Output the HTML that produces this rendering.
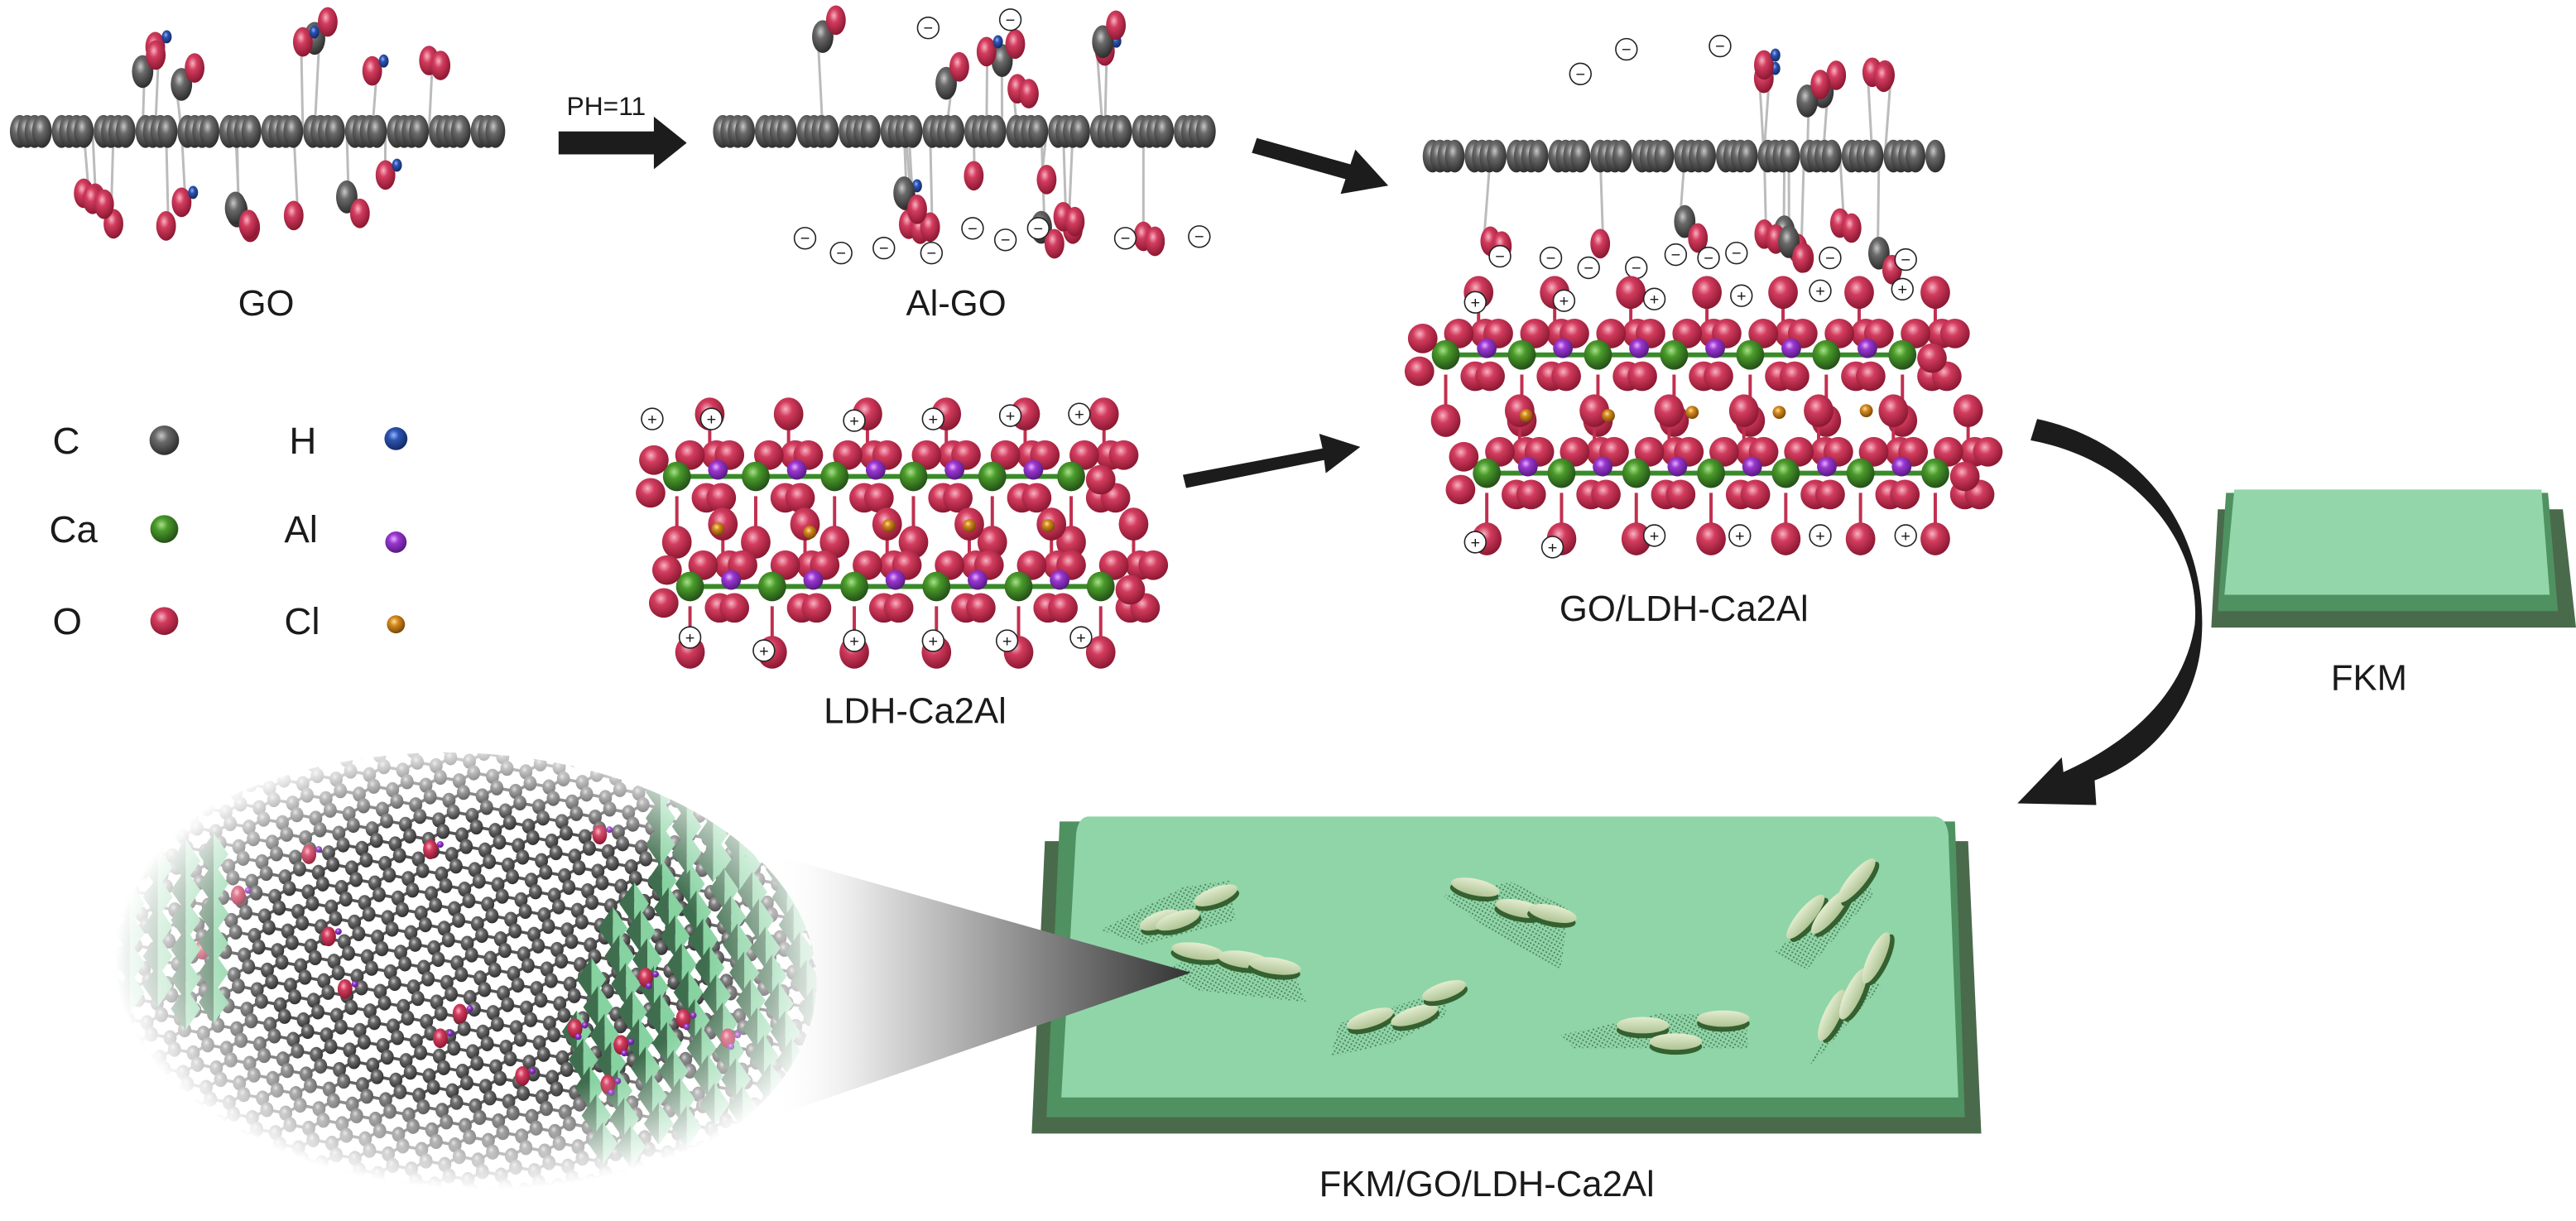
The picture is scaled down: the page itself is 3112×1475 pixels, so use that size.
<!DOCTYPE html>
<html><head><meta charset="utf-8"><style>
html,body{margin:0;padding:0;background:#fff;overflow:hidden;width:3112px;height:1475px;}
svg{display:block;}
text{font-family:"Liberation Sans",sans-serif;fill:#1a1a1a;}
</style></head><body>
<svg id="s" width="3112" height="1475" viewBox="0 0 1568 743.2" xmlns="http://www.w3.org/2000/svg">
<defs>
<radialGradient id="gC" cx="40%" cy="35%" r="65%"><stop offset="0" stop-color="#c8c8c8"/><stop offset=".35" stop-color="#6a6a6a"/><stop offset="1" stop-color="#2e2e2e"/></radialGradient>
<radialGradient id="gO" cx="40%" cy="35%" r="65%"><stop offset="0" stop-color="#f7b3c2"/><stop offset=".35" stop-color="#d33c5e"/><stop offset="1" stop-color="#8c1832"/></radialGradient>
<radialGradient id="gCa" cx="40%" cy="35%" r="65%"><stop offset="0" stop-color="#a8e08a"/><stop offset=".35" stop-color="#4a9a2a"/><stop offset="1" stop-color="#245018"/></radialGradient>
<radialGradient id="gAl" cx="40%" cy="35%" r="65%"><stop offset="0" stop-color="#e6b0ff"/><stop offset=".35" stop-color="#9a36d0"/><stop offset="1" stop-color="#561a80"/></radialGradient>
<radialGradient id="gH" cx="40%" cy="35%" r="65%"><stop offset="0" stop-color="#9ab4ff"/><stop offset=".35" stop-color="#2c54b0"/><stop offset="1" stop-color="#142a66"/></radialGradient>
<radialGradient id="gCl" cx="40%" cy="35%" r="65%"><stop offset="0" stop-color="#ffe09a"/><stop offset=".35" stop-color="#d48a1e"/><stop offset="1" stop-color="#7a4808"/></radialGradient>
<radialGradient id="fade" cx="55%" cy="45%" r="50%"><stop offset="0" stop-color="#fff"/><stop offset=".6" stop-color="#fff"/><stop offset="1" stop-color="#000"/></radialGradient>
<mask id="m"><ellipse cx="272" cy="598" rx="225" ry="140" fill="url(#fade)"/></mask>
<linearGradient id="cone" x1="0" y1="0" x2="1" y2="0"><stop offset="0" stop-color="#fff" stop-opacity="0"/><stop offset=".25" stop-color="#ddd"/><stop offset="1" stop-color="#333"/></linearGradient>
<pattern id="dots" width="2.2" height="2.2" patternUnits="userSpaceOnUse" patternTransform="rotate(30)"><rect width="1" height="1" fill="#3d6a45"/></pattern>
<linearGradient id="plate" x1="0" y1="0" x2="0" y2="1"><stop offset="0" stop-color="#e4edd0"/><stop offset="1" stop-color="#aec394"/></linearGradient>
</defs>
<g id="root"></g>

<text x="162" y="192" font-size="22" text-anchor="middle">GO</text>
<text x="582" y="192" font-size="22" text-anchor="middle">Al-GO</text>
<text x="369" y="70" font-size="16" text-anchor="middle">PH=11</text>
<text x="1025" y="378" font-size="22" text-anchor="middle">GO/LDH-Ca2Al</text>
<text x="557" y="440" font-size="22" text-anchor="middle">LDH-Ca2Al</text>
<text x="1442" y="420" font-size="22" text-anchor="middle">FKM</text>
<text x="905" y="728" font-size="22" text-anchor="middle">FKM/GO/LDH-Ca2Al</text>
<g font-size="23">
<text x="32" y="276">C</text><text x="30" y="330">Ca</text><text x="32" y="386">O</text>
<text x="176" y="276">H</text><text x="173" y="330">Al</text><text x="173" y="386">Cl</text>
</g>
</svg>
<script>
var NS="http://www.w3.org/2000/svg",root=document.getElementById('root');
function el(t,a,p){var e=document.createElementNS(NS,t);for(var k in a)e.setAttribute(k,a[k]);(p||root).appendChild(e);return e;}
function sp(x,y,r,c,ry,p){return el('ellipse',{cx:x,cy:y,rx:r,ry:ry||r,fill:'url(#g'+c+')'},p);}
function ln(x1,y1,x2,y2,c,w,p){return el('line',{x1:x1,y1:y1,x2:x2,y2:y2,stroke:c||'#ccc','stroke-width':w||1.5},p);}
var seed=7;function rnd(){seed=(seed*9301+49297)%233280;return seed/233280;}
function chg(x,y,s,p){el('circle',{cx:x,cy:y,r:6.5,fill:'#fff',stroke:'#222','stroke-width':0.8},p);var t=el('text',{x:x,y:y+3.5,'font-size':10,'text-anchor':'middle'},p);t.textContent=s;}

sp(100,268,9,'C');sp(100,322,8.5,'Ca');sp(100,378,8.5,'O');
sp(241,267,7,'H');sp(241,330,6.5,'Al');sp(241,380,5.5,'Cl');

function sheet(x0,x1,y,above,below,minus){
  var g=el('g',{});
  var subs=[];
  for(var i=0;i<above;i++){var x=x0+30+rnd()*(x1-x0-60);subs.push([x,y-25-rnd()*35]);}
  for(var i=0;i<below;i++){var x=x0+30+rnd()*(x1-x0-60);subs.push([x,y+25+rnd()*40]);}
  subs.forEach(function(s){ln(s[0],y,s[0]+(rnd()-.5)*8,s[1],'#bbb',1.5,g);});
  ln(x0,y,x1,y,'#ddd',3,g);
  var x=x0,k=0;
  while(x<=x1){sp(x,y,6,'C',10,g);k++;x+=(k%4==0)?12:4.5;}
  subs.forEach(function(s){
    var r=rnd();
    if(r<.35){sp(s[0],s[1],6.5,'C',10,g);sp(s[0]+8,s[1]+(s[1]<y?-10:10),6,'O',9,g);}
    else if(r<.55){sp(s[0],s[1],6,'O',9,g);sp(s[0]+7,s[1]-6,3,'H',4,g);}
    else {sp(s[0],s[1],6,'O',9,g);if(r>.8)sp(s[0]+7,s[1]+3,6,'O',9,g);}
  });
  if(minus)minus.forEach(function(m){chg(m[0],m[1],'−',g);});
}
seed=11;sheet(12,302,80,7,10);
seed=23;sheet(440,740,80,7,10,[[490,145],[512,154],[538,151],[567,154],[592,139],[612,146],[632,139],[685,145],[730,144]]);
seed=37;sheet(872,1182,95,6,9,[[913,156],[944,157],[967,163],[996,163],[1020,155],[1040,157],[1057,154],[1114,157],[1160,158]]);
[[990,30],[962,45],[1047,28]].forEach(function(m){chg(m[0],m[1],'−');});
[[565,17],[615,12]].forEach(function(m){chg(m[0],m[1],'−');});

function layer(x0,x1,y,pendUp,pendDn){
  var g=el('g',{});
  var n=Math.round((x1-x0)/49);
  for(var i=0;i<=n;i++){var x=x0+i*(x1-x0)/n;
    if(pendUp)ln(x+20,y-14,x+20,y-34,'#c03050',2,g);
    if(pendDn)ln(x,y+12,x,y+35,'#c03050',2,g);
  }
  for(var i=0;i<=n;i++){var x=x0+i*(x1-x0)/n;
    sp(x+24,y-13,9,'O',null,g);sp(x+32,y-13,9,'O',null,g);sp(x+8,y-13,9,'O',null,g);
    if(pendUp)sp(x+20,y-38,9,'O',10,g);
  }
  ln(x0,y,x1,y,'#3a8a2a',3,g);
  for(var i=0;i<=n;i++){var x=x0+i*(x1-x0)/n;
    if(i<n)sp(x+25,y-4,6,'Al',null,g);
    sp(x,y,8.5,'Ca',9,g);
  }
  for(var i=0;i<=n;i++){var x=x0+i*(x1-x0)/n;
    sp(x+18,y+13,9,'O',null,g);sp(x+27,y+13,9,'O',null,g);
    if(pendDn)sp(x,y+40,9,'O',10,g);
  }
  sp(x0-14,y-10,9,'O',null,g);sp(x0-16,y+10,9,'O',null,g);
  sp(x1+18,y+2,9,'O',null,g);
}
layer(412,652,290,true,true);
layer(420,670,357,true,true);
[[437,322],[493,324],[541,320],[590,320],[638,320]].forEach(function(c){sp(c[0],c[1],4,'Cl');});
[[397,255],[433,255],[520,256],[568,255],[615,253],[657,252]].forEach(function(m){chg(m[0],m[1],'+');});
[[420,388],[465,396],[520,390],[568,390],[613,390],[658,388]].forEach(function(m){chg(m[0],m[1],'+');});
layer(880,1158,216,true,true);
layer(905,1178,288,true,true);
[[929,253],[979,253],[1030,251],[1083,251],[1136,250]].forEach(function(c){sp(c[0],c[1],4,'Cl');});
[[898,184],[952,183],[1007,182],[1060,180],[1108,177],[1158,176]].forEach(function(m){chg(m[0],m[1],'+');});
[[898,330],[945,333],[1007,326],[1059,326],[1108,326],[1160,326]].forEach(function(m){chg(m[0],m[1],'+');});

el('path',{d:'M340 80 L398 80 L398 71 L418 87 L398 103 L398 94 L340 94 Z',fill:'#1c1c1c'});
el('path',{d:'M765 84 L822 100 L825 91 L845 113 L816 118 L819 109 L762 93 Z',fill:'#1c1c1c'});
el('path',{d:'M720 289 L805 273 L803 264 L828 272 L807 288 L806 280 L722 297 Z',fill:'#1c1c1c'});
el('path',{d:'M1240 255 C1310 270 1345 330 1340 390 C1337 430 1310 462 1275 475 L1276 490 L1228 489 L1255 461 L1256 470 C1300 450 1330 420 1336 380 C1340 330 1300 280 1236 268 Z',fill:'#1c1c1c'});

el('path',{d:'M1350 310 L1560 310 L1568 382 L1346 382 Z',fill:'#4a6a4c'});
el('path',{d:'M1355 300 L1551 300 L1557 372 L1350 372 Z',fill:'#4f9160'});
el('path',{d:'M1360 298 L1547 298 L1552 362 L1354 362 Z',fill:'#92d6a9'});

el('path',{d:'M636 512 L1198 512 L1206 690 L628 690 Z',fill:'#4a6a4c'});
el('path',{d:'M645 500 L1190 500 L1196 680 L637 680 Z',fill:'#4f9160'});
el('path',{d:'M662 497 L1178 497 Q1185 498 1186 508 L1192 668 L646 668 L655 508 Q656 498 662 497 Z',fill:'#8fd5a8'});
function grp(poly,plates){
  el('polygon',{points:poly,fill:'url(#dots)',opacity:.75});
  (plates||[]).forEach(function(p){
    var g=el('g',{transform:'translate('+p[0]+','+p[1]+') rotate('+p[2]+')'});
    el('ellipse',{cx:0,cy:3,rx:p[3]||17,ry:5,fill:'#35602f'},g);
    el('ellipse',{cx:0,cy:0,rx:p[3]||17,ry:5,fill:'url(#plate)'},g);
  });
}
grp('670,566 720,540 748,536 752,560 695,575',[[706,560,-20,13],[717,560,-18,14],[740,545,-20,14]]);
grp('708,590 740,578 785,586 795,610 730,603',[[729,579,8,16],[757,584,8,16],[776,588,8,16]]);
grp('878,545 920,537 955,553 950,590 905,565',[[898,540,12,15],[925,553,12,15],[945,556,12,15]]);
grp('815,623 880,603 880,618 848,635 810,643',[[834,620,-18,15],[861,618,-18,15],[879,603,-18,14]]);
grp('950,630 1010,617 1063,618 1064,638 958,638',[[1000,624,0,16],[1020,634,0,16],[1049,620,0,16]]);
grp('1080,580 1135,530 1140,545 1100,590',[[1099,558,-50,17],[1114,555,-50,17],[1130,536,-50,17]]);
grp('1100,650 1138,590 1145,600 1110,640',[[1115,618,-65,17],[1128,605,-65,17],[1142,583,-65,17]]);

var ins=el('g',{mask:'url(#m)'});
el('polygon',{points:'470,520 725,592 470,680',fill:'url(#cone)'});
var lat=el('g',{},ins);
var d=12,a=-0.22,ca=Math.cos(a),sa=Math.sin(a),sq=Math.sqrt(3);
function P(u,v){var x=u*ca-v*sa,y=u*sa+v*ca;return[272+x,598+y*0.6];}
var nodes=[];
for(var j=-20;j<=20;j++)for(var i=-16;i<=16;i++){
  var bx=i*sq*d+(j%2?sq*d/2:0),by=j*1.5*d;
  var A=P(bx,by),B=P(bx,by+d);
  if(Math.abs(A[0]-272)>245||Math.abs(A[1]-598)>155)continue;
  var C1=P(bx-sq*d/2,by-0.5*d),C2=P(bx+sq*d/2,by-0.5*d);
  ln(A[0],A[1],B[0],B[1],'#555',1.8,lat);ln(A[0],A[1],C1[0],C1[1],'#555',1.8,lat);ln(A[0],A[1],C2[0],C2[1],'#555',1.8,lat);
  nodes.push(A,B);
}
nodes.forEach(function(n){sp(n[0],n[1],4,'C',4.6,lat);});
[[145,545],[123,578],[210,602],[268,632],[318,655],[188,520],[262,517],[280,617],[200,570],[365,508]].forEach(function(o){sp(o[0],o[1],4.5,'O',6,ins);sp(o[0]+6,o[1]-3,2,'Al',null,ins);});
function dia(x,y,p){el('path',{d:'M'+x+' '+(y-13)+' L'+(x+9)+' '+y+' L'+x+' '+(y+13)+' Z',fill:'#86d2a0'},p);el('path',{d:'M'+x+' '+(y-13)+' L'+(x-9)+' '+y+' L'+x+' '+(y+13)+' Z',fill:'#3f6e4e'},p);}
for(var r=0;r<9;r++)for(var c=0;c<9;c++){var x=335+c*17+r*4,y=560+r*17-c*6+((c%2)?8:0);if(x+(y-560)*0.5<375)continue;dia(x,y,ins);}
for(var r=0;r<6;r++)for(var c=0;c<5;c++){var x=62+c*17,y=500+r*18+c*5+((c%2)?9:0);dia(x,y,ins);}
for(var r=0;r<3;r++)for(var c=0;c<4;c++){dia(402+c*16,482+r*16+c*5,ins);}
[[350,626],[378,636],[393,595],[416,620],[443,632],[370,660]].forEach(function(o){sp(o[0],o[1],4.5,'O',6,ins);sp(o[0]+6,o[1]-2,2,'Al',null,ins);sp(o[0]+2,o[1]+5,2,'Al',null,ins);});
</script>
</body></html>
